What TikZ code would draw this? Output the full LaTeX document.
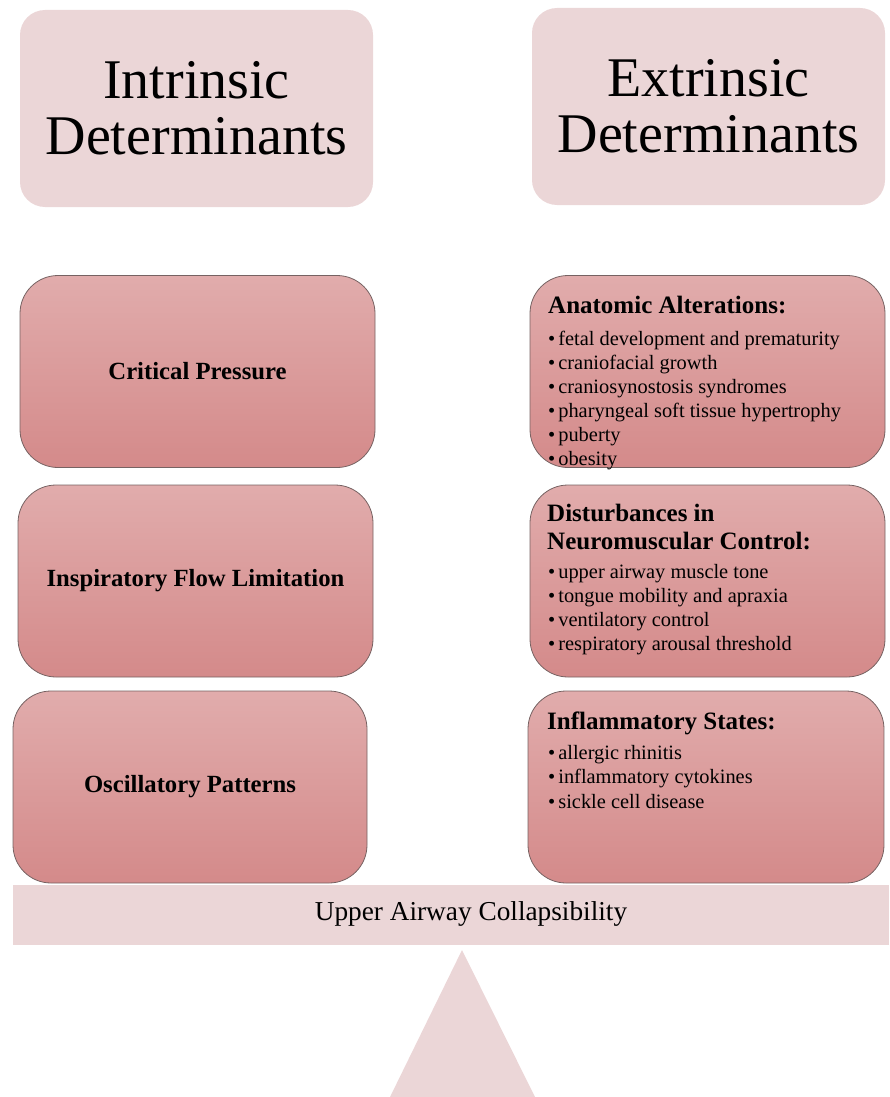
\documentclass[tikz,border=0pt]{standalone}
\usepackage{fontspec}
\setmainfont{Liberation Serif}
\definecolor{hdrfill}{HTML}{EBD6D7}
\definecolor{gtop}{HTML}{E1ACAC}
\definecolor{gbot}{HTML}{D48A8A}
\definecolor{boxline}{HTML}{766262}
\newcommand\itm{\textbullet\hspace{3pt}}
\begin{document}
\begin{tikzpicture}[x=1pt,y=-1pt,
  hdr/.style={fill=hdrfill, rounded corners=25pt, inner sep=0pt, align=center,
    minimum width=353pt, minimum height=197pt, font=\fontsize{56}{56}\selectfont},
  gbox/.style={draw=boxline, line width=0.8pt, top color=gtop, bottom color=gbot,
    rounded corners=38pt, inner sep=0pt, align=center, minimum height=192pt,
    font=\fontsize{24.7}{28}\selectfont\bfseries},
  ttl/.style={anchor=base west, inner sep=0pt, font=\fontsize{25}{28}\selectfont\bfseries},
  items/.style={anchor=north west, inner sep=0pt, align=left, font=\fontsize{20.4}{24}\selectfont},
  bar/.style={fill=hdrfill, inner sep=0pt, minimum width=876pt, minimum height=60pt},
  bartext/.style={inner sep=0pt, font=\fontsize{27.3}{30}\selectfont},
  fulcrum/.style={fill=hdrfill}]
\useasboundingbox (0,0) rectangle (889,1097);
% headers
\node[hdr] (hin) at (196.5,108.5) {Intrinsic\\Determinants};
\node[hdr] (hex) at (708.5,106.5) {Extrinsic\\Determinants};
% left column
\node[gbox, minimum width=355pt] (cp) at (197.5,371.5) {Critical Pressure};
\node[gbox, minimum width=355pt] (ifl) at (195.5,581) {Inspiratory Flow Limitation};
\node[gbox, minimum width=354pt] (osc) at (190,787) {Oscillatory Patterns};
% right column
\node[gbox, minimum width=355pt] (anat) at (707.5,371.5) {};
\node[gbox, minimum width=355pt] (dist) at (707.5,581) {};
\node[gbox, minimum width=356pt] (infl) at (706,787) {};
% right texts
\node[ttl] (anatT) at (548,313) {Anatomic Alterations:};
\node[items] (anatI) at (548,330.5) {\itm fetal development and prematurity\\ \itm craniofacial growth\\ \itm craniosynostosis syndromes\\ \itm pharyngeal soft tissue hypertrophy\\ \itm puberty\\ \itm obesity};
\node[ttl] (distT1) at (547,521) {Disturbances in};
\node[ttl] (distT2) at (547,549) {Neuromuscular Control:};
\node[items] (distI) at (548,564.5) {\itm upper airway muscle tone\\ \itm tongue mobility and apraxia\\ \itm ventilatory control\\ \itm respiratory arousal threshold};
\node[ttl] (inflT) at (547,729) {Inflammatory States:};
\node[items, font=\fontsize{20.4}{24.5}\selectfont] (inflI) at (548,744.8) {\itm allergic rhinitis\\ \itm inflammatory cytokines\\ \itm sickle cell disease};
% bar and fulcrum
\node[bar] (uac) at (451,915) {};
\node[bartext] (uacT) at (471,914) {Upper Airway Collapsibility};
\fill[fulcrum] (462,950) -- (535,1097) -- (390,1097) -- cycle;
\end{tikzpicture}
\end{document}
